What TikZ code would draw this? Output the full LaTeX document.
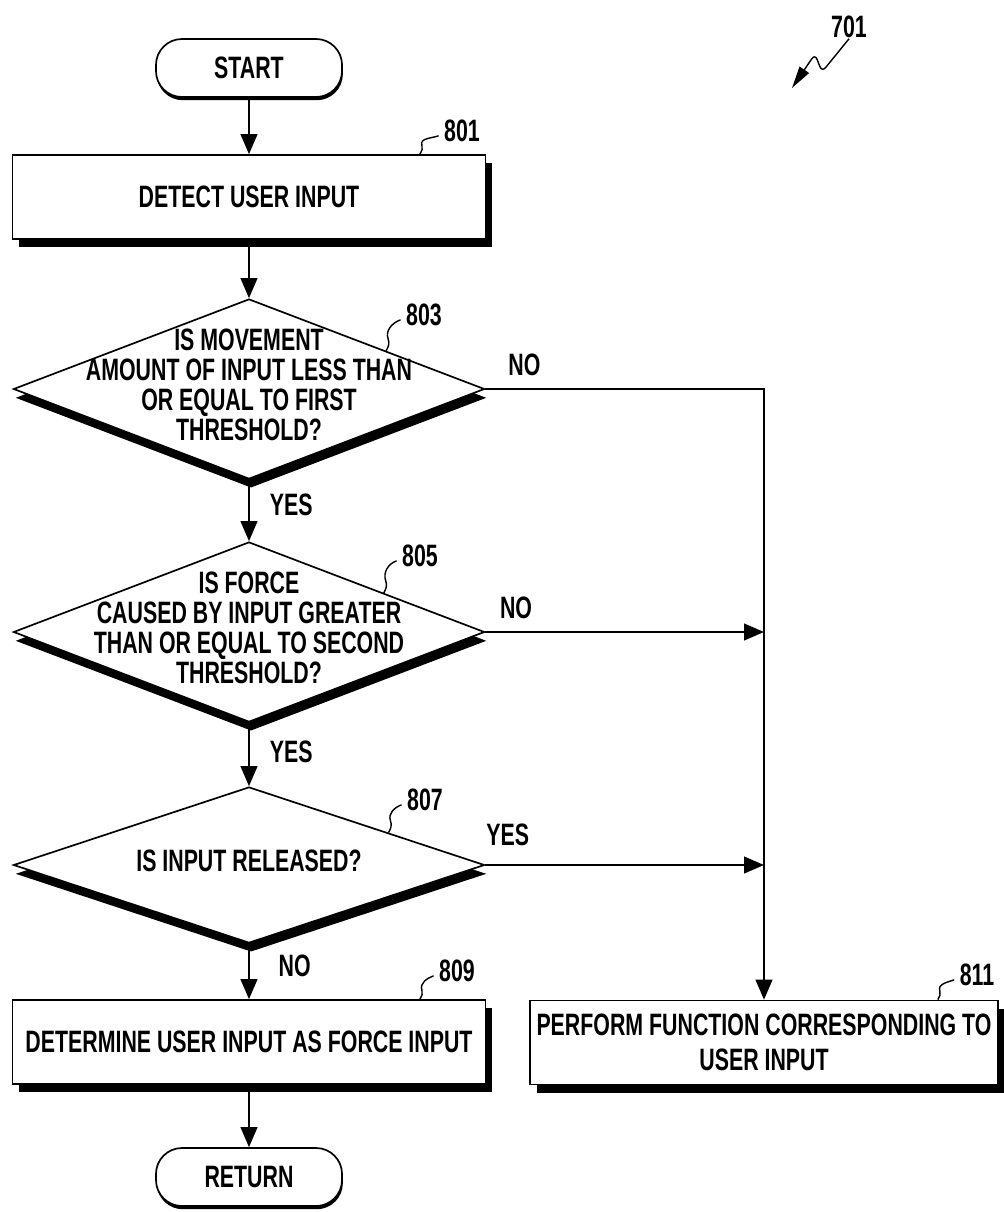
\documentclass[tikz,border=0pt]{standalone}
\usepackage{fontspec}
\setmainfont{Liberation Sans}[FakeStretch=0.69]
\usetikzlibrary{arrows.meta,shapes.geometric,shadows,calc}

\newcommand{\qtext}[1]{\makebox[0pt]{\begin{tabular}{@{}c@{}}#1\end{tabular}}}

\begin{document}
\begin{tikzpicture}[x=0.025cm, y=-0.025cm, line width=1.2pt,
  every node/.style={font=\fontsize{22}{25}\selectfont\bfseries},
  term/.style={draw, fill=white, rounded corners=0.65cm, minimum width=4.65cm, minimum height=1.45cm,
    drop shadow={shadow xshift=0.02cm, shadow yshift=-0.08cm, opacity=1, fill=black}},
  proc/.style={draw, fill=white, minimum width=11.825cm, minimum height=2.1cm, align=center,
    drop shadow={shadow xshift=0.17cm, shadow yshift=-0.2cm, opacity=1, fill=black}},
  test/.style={draw, diamond, fill=white, inner sep=0pt, minimum width=11.775cm, minimum height=4.5cm,
    font=\fontsize{22}{20.6}\selectfont\bfseries,
    drop shadow={shadow xshift=0.05cm, shadow yshift=-0.22cm, opacity=1, fill=black}},
  lbl/.style={inner sep=0pt},
  ref/.style={inner sep=0pt},
  arr/.style={-{Triangle[length=0.5cm,width=0.42cm]}},
  lead/.style={line width=1pt}]
\useasboundingbox (0,0) rectangle (1004,1212);
% MAIN COLUMN
\node[term] (start) at (249,68) {START};
\node[proc] (detect) at (249,197) {DETECT USER INPUT};
\node[test] (q1) at (249,389) {\qtext{IS MOVEMENT\\AMOUNT OF INPUT LESS THAN\\OR EQUAL TO FIRST\\THRESHOLD?}};
\node[test] (q2) at (249,632) {\qtext{IS FORCE\\CAUSED BY INPUT GREATER\\THAN OR EQUAL TO SECOND\\THRESHOLD?}};
\node[test, minimum height=3.9cm] (q3) at (249,865) {\qtext{IS INPUT RELEASED?}};
\node[proc] (force) at (249,1042) {DETERMINE USER INPUT AS FORCE INPUT};
\node[term] (ret) at (249,1177) {RETURN};
% RIGHT BOX
\node[proc, minimum width=11.7cm] (perform) at (764,1042.5) {PERFORM FUNCTION CORRESPONDING TO\\USER INPUT};
% ARROWS
\draw[arr] (start) -- (detect);
\draw[arr] (detect) -- (q1);
\draw[arr] (q1.south) -- node[lbl, pos=0.4, right=0.5cm] (yes1) {YES} (q2.north);
\draw[arr] (q2.south) -- node[lbl, pos=0.46, right=0.5cm] (yes2) {YES} (q3.north);
\draw[arr] (q3.south) -- node[lbl, pos=0.39, right=0.72cm] (no3) {NO} (force.north);
\draw[arr] (force) -- (ret);
\draw[arr] (q1.east) -| node[lbl, pos=0.07, above=0.3cm] (no1) {NO} (perform.north);
\draw[arr] (q2.east) -- node[lbl, pos=0.11, above=0.3cm] (no2) {NO} (q2.east -| perform.north);
\draw[arr] (q3.east) -- node[lbl, pos=0.08, above=0.45cm] (yes3) {YES} (q3.east -| perform.north);
% REFERENCE NUMBERS
\node[ref] (n701) at (849,27) {701};
\node[ref] (n801) at (462,131) {801};
\node[ref] (n803) at (424,315) {803};
\node[ref] (n805) at (420,556) {805};
\node[ref] (n807) at (425,800) {807};
\node[ref] (n809) at (457,971) {809};
\node[ref] (n811) at (977,975) {811};
\draw[lead] ($(detect.north)!0.72!(detect.north east)$) to[out=60,in=-70] ++(2,-9) to[out=110,in=200] ([xshift=-0.12cm,yshift=-0.12cm]n801.west);
\draw[lead] ($(q1.north)!0.58!(q1.east)$) to[out=60,in=-70] ++(2,-12) to[out=110,in=200] ([xshift=-0.12cm,yshift=-0.12cm]n803.west);
\draw[lead] ($(q2.north)!0.57!(q2.east)$) to[out=60,in=-70] ++(2,-12) to[out=110,in=200] ([xshift=-0.12cm,yshift=-0.12cm]n805.west);
\draw[lead] ($(q3.north)!0.59!(q3.east)$) to[out=60,in=-70] ++(2,-12) to[out=110,in=200] ([xshift=-0.12cm,yshift=-0.12cm]n807.west);
\draw[lead] ($(force.north)!0.72!(force.north east)$) to[out=60,in=-70] ++(2,-9) to[out=110,in=200] ([xshift=-0.12cm,yshift=-0.12cm]n809.west);
\draw[lead] ($(perform.north)!0.74!(perform.north east)$) to[out=60,in=-70] ++(2,-9) to[out=110,in=200] ([xshift=-0.12cm,yshift=-0.12cm]n811.west);
\draw[lead, rounded corners=4pt, -{Triangle[length=0.55cm,width=0.28cm]}] (n701.south) -- (822,72) -- (815,54) -- (792,88);
\end{tikzpicture}
\end{document}
